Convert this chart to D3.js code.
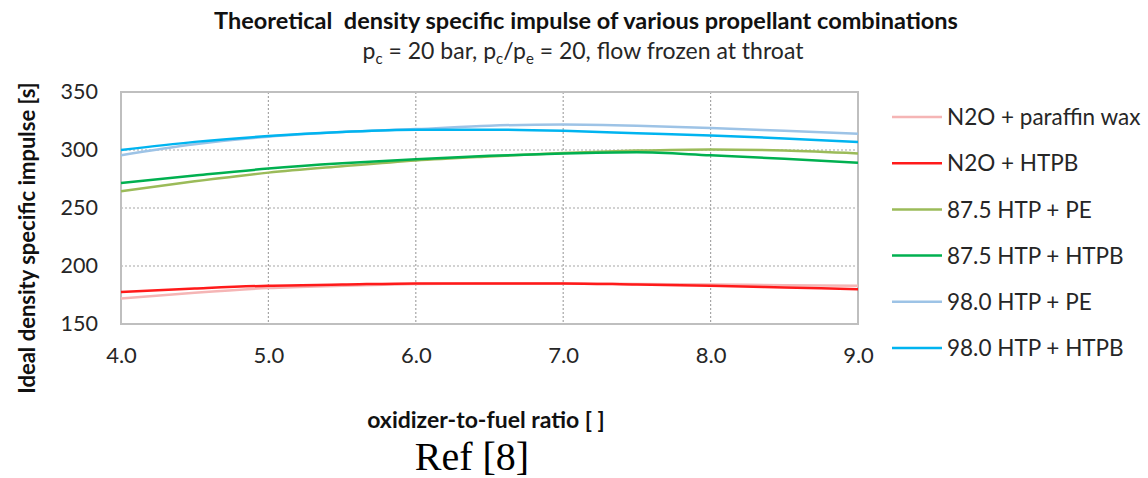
<!DOCTYPE html>
<html>
<head>
<meta charset="utf-8">
<script src="https://cdn.jsdelivr.net/npm/d3@7"></script>
<style>
  body { margin: 0; background: #fff; }
  text { font-family: "Lato", "Open Sans", sans-serif; fill: #262626; }
</style>
</head>
<body>
<div id="chart"></div>
<script>
// oxidizer-to-fuel ratios
var ofRatio = [4.0, 4.5, 5.0, 5.5, 6.0, 6.5, 7.0, 7.5, 8.0, 8.5, 9.0];

// density specific impulse [s]
var n2oParaffin = [172, 177, 181, 183, 184.5, 185, 185, 184.5, 184, 183.5, 183];
var n2oHtpb     = [177.5, 180.5, 183, 184, 185, 185, 185, 184, 183, 181.5, 180];
var htp875Pe    = [264.5, 273, 280.5, 286, 291, 294.5, 297.5, 299.5, 300.5, 299.5, 297];
var htp875Htpb  = [271.5, 278, 284, 288.5, 292, 295, 297, 298, 295.5, 292.5, 289];
var htp980Pe    = [295.5, 305, 311.5, 315.5, 318, 321, 322, 321, 319, 316.5, 314];
var htp980Htpb  = [300, 307, 312, 315.5, 317.5, 317.5, 316.5, 314.5, 312.5, 310, 307];

var seriesNames = ["N2O + paraffin wax", "N2O + HTPB", "87.5 HTP + PE",
                   "87.5 HTP + HTPB", "98.0 HTP + PE", "98.0 HTP + HTPB"];
var seriesColors = ["#f5b5b5", "#ff1a1a", "#9bbb59", "#00b050", "#9dc3e6", "#00b4f0"];
var seriesValues = [n2oParaffin, n2oHtpb, htp875Pe, htp875Htpb, htp980Pe, htp980Htpb];

var xTicks = [4, 5, 6, 7, 8, 9];
var yTicks = [150, 200, 250, 300, 350];

var W = 1148, H = 478;
var margin = {top: 92, right: 290, bottom: 154, left: 121};
var width = W - margin.left - margin.right,
    height = H - margin.top - margin.bottom;

var svg = d3.select("#chart").append("svg")
    .attr("width", W)
    .attr("height", H);

var g = svg.append("g")
    .attr("transform", "translate(" + margin.left + "," + margin.top + ")");

var x = d3.scaleLinear().domain([4, 9]).range([0, width]);
var y = d3.scaleLinear().domain([150, 350]).range([height, 0]);

// grid
g.append("g")
  .selectAll("line.vg")
  .data(xTicks.slice(1, -1))
  .enter().append("line")
    .attr("x1", function(d) { return x(d); })
    .attr("x2", function(d) { return x(d); })
    .attr("y1", 0).attr("y2", height)
    .style("stroke", "#a6a6a6")
    .style("stroke-width", 1.2)
    .style("stroke-dasharray", "2,2");
g.append("g")
  .selectAll("line.hg")
  .data(yTicks.slice(1, -1))
  .enter().append("line")
    .attr("x1", 0).attr("x2", width)
    .attr("y1", function(d) { return y(d); })
    .attr("y2", function(d) { return y(d); })
    .style("stroke", "#a6a6a6")
    .style("stroke-width", 1.2)
    .style("stroke-dasharray", "2,2");

// axes (labels only)
var xAxis = g.append("g")
  .attr("transform", "translate(0," + height + ")")
  .call(d3.axisBottom(x).tickValues(xTicks).tickFormat(d3.format(".1f")).tickSize(0).tickPadding(23));
xAxis.select(".domain").remove();
xAxis.selectAll("text").style("font-size", "22px").style("fill", "#262626");

var yAxis = g.append("g")
  .call(d3.axisLeft(y).tickValues(yTicks).tickSize(0).tickPadding(23));
yAxis.select(".domain").remove();
yAxis.selectAll("text").style("font-size", "21.5px").style("fill", "#262626");

// plot border
g.append("rect")
  .attr("width", width).attr("height", height)
  .style("fill", "none")
  .style("stroke", "#bfbfbf")
  .style("stroke-width", 2);

// lines
var line = d3.line()
  .x(function(d, i) { return x(ofRatio[i]); })
  .y(function(d) { return y(d); })
  .curve(d3.curveMonotoneX);

g.selectAll("path.series")
  .data(seriesValues)
  .enter().append("path")
    .attr("class", "series")
    .attr("d", line)
    .style("fill", "none")
    .style("stroke", function(d, i) { return seriesColors[i]; })
    .style("stroke-width", 2.5);

// legend
var legend = svg.append("g").attr("transform", "translate(892,117)");
var item = legend.selectAll("g")
  .data(seriesNames)
  .enter().append("g")
    .attr("transform", function(d, i) { return "translate(0," + (i * 46.2) + ")"; });
item.append("line")
  .attr("x1", 0).attr("x2", 50)
  .style("stroke", function(d, i) { return seriesColors[i]; })
  .style("stroke-width", 2.5);
item.append("text")
  .attr("x", 55).attr("dy", "0.36em")
  .style("font-size", "22.5px")
  .text(function(d) { return d; });

// titles
svg.append("text")
  .attr("x", 586).attr("y", 29)
  .attr("text-anchor", "middle")
  .style("font-size", "23.5px")
  .style("font-weight", "bold")
  .style("white-space", "pre")
  .style("fill", "#111")
  .text("Theoretical  density specific impulse of various propellant combinations");

var sub = svg.append("text")
  .attr("x", 583).attr("y", 59)
  .attr("text-anchor", "middle")
  .style("font-size", "23px");
sub.append("tspan").text("p");
sub.append("tspan").attr("dy", 5).style("font-size", "15px").text("c");
sub.append("tspan").attr("dy", -5).text(" = 20 bar, p");
sub.append("tspan").attr("dy", 5).style("font-size", "15px").text("c");
sub.append("tspan").attr("dy", -5).text("/p");
sub.append("tspan").attr("dy", 5).style("font-size", "15px").text("e");
sub.append("tspan").attr("dy", -5).text(" = 20, flow frozen at throat");

svg.append("text")
  .attr("transform", "translate(35,238) rotate(-90)")
  .attr("text-anchor", "middle")
  .style("font-size", "22px")
  .style("font-weight", "bold")
  .style("fill", "#111")
  .text("Ideal density specific impulse [s]");

svg.append("text")
  .attr("x", 486).attr("y", 428)
  .attr("text-anchor", "middle")
  .style("font-size", "23px")
  .style("font-weight", "bold")
  .style("fill", "#111")
  .text("oxidizer-to-fuel ratio [ ]");

svg.append("text")
  .attr("x", 472).attr("y", 470)
  .attr("text-anchor", "middle")
  .style("font-family", "'Liberation Serif', serif")
  .style("font-size", "40px")
  .style("fill", "#000")
  .text("Ref [8]");
</script>
</body>
</html>
